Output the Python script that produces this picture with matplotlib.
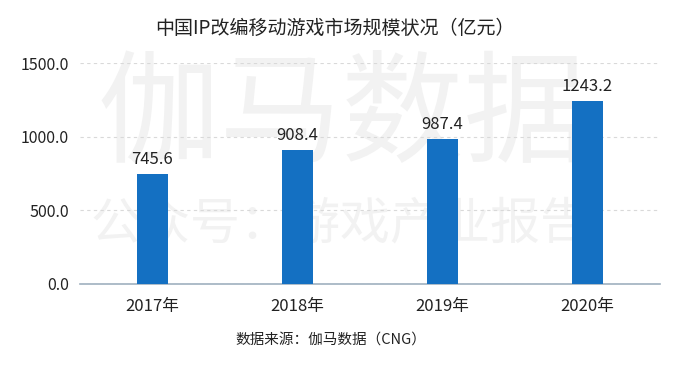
import matplotlib
matplotlib.use("Agg")
import matplotlib.pyplot as plt

plt.rcParams['font.family'] = ['Noto Sans CJK SC', 'DejaVu Sans']

categories = ["2017年", "2018年", "2019年", "2020年"]
values = [745.6, 908.4, 987.4, 1243.2]
yticks = [0, 500, 1000, 1500]
ytick_labels = ["0.0", "500.0", "1000.0", "1500.0"]

fig = plt.figure(figsize=(7, 3.68), dpi=100)
ax = fig.add_axes([80/700, 1-284/368, 580/700, (284-63)/368])
ax.set_zorder(2)

# watermarks (behind the axes)
fig.text(342/700, 1-118/368, "伽马数据", fontsize=88, color="#f2f2f2",
         ha="center", va="center", zorder=0)
fig.text(340/700, 1-224/368, "公众号：游戏产业报告", fontsize=36, color="#f2f2f2",
         ha="center", va="center", zorder=0)

ax.set_facecolor("none")
x = range(len(categories))
ax.bar(x, values, width=0.21, color="#1470c2", zorder=3)
for xi, v in zip(x, values):
    ax.text(xi, v + 40, f"{v:.1f}", ha="center", va="bottom", fontsize=12, color="#222222")

ax.set_xlim(-0.5, 3.5)
ax.set_ylim(0, 1500)
ax.set_yticks(yticks)
ax.set_yticklabels(ytick_labels, fontsize=11.5, color="#222222")
ax.set_xticks(list(x))
ax.set_xticklabels(categories, fontsize=12, color="#222222")
ax.tick_params(axis="both", length=0, pad=8)
ax.tick_params(axis="x", pad=10)
ax.yaxis.grid(True, linestyle=(0, (3, 3)), color="#d9d9d9", linewidth=0.8, zorder=0)
for s in ["top", "right", "left"]:
    ax.spines[s].set_visible(False)
ax.spines["bottom"].set_color("#9fb0bf")
ax.spines["bottom"].set_linewidth(1.2)

fig.text(335/700, 1-28/368, "中国IP改编移动游戏市场规模状况（亿元）", fontsize=13.7,
         ha="center", va="center", color="#222222")
fig.text(331/700, 1-340/368, "数据来源：伽马数据（CNG）", fontsize=10.5,
         ha="center", va="center", color="#222222")

fig.savefig("out.png", dpi=100)
